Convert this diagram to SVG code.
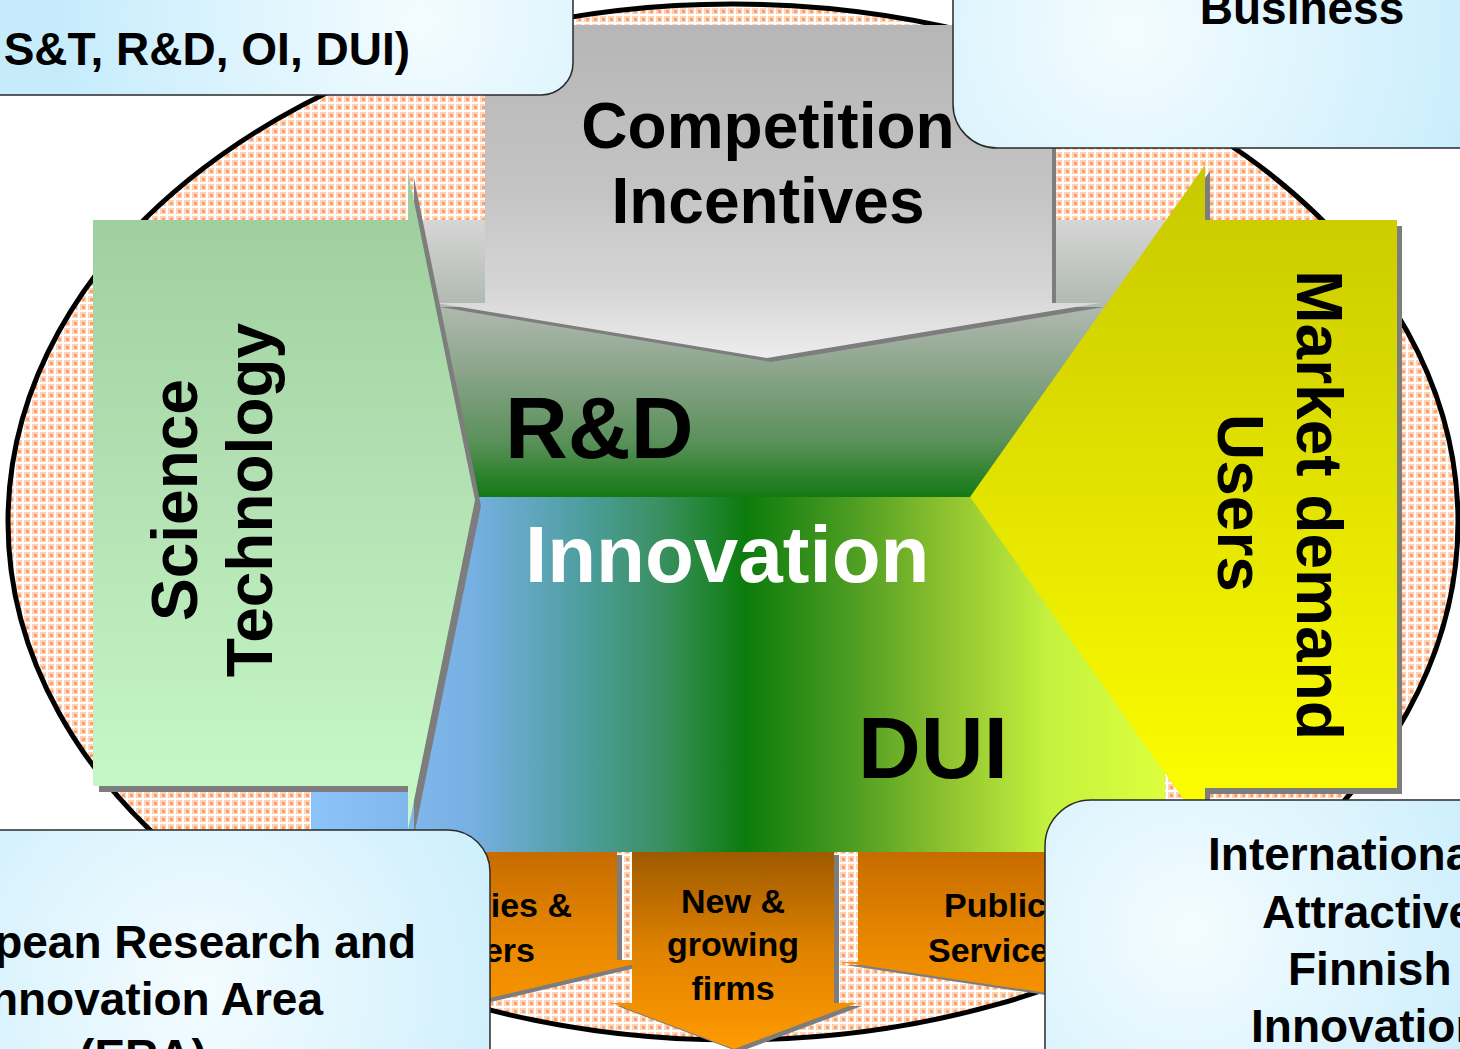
<svg xmlns="http://www.w3.org/2000/svg" width="1460" height="1049" viewBox="0 0 1460 1049">
<style>
.lbl{font-family:"Liberation Sans",Arial,Helvetica,sans-serif;font-weight:bold;fill:#000}
.w{fill:#fff}
.s46{font-size:46px}
.s64{font-size:64px}
.s34{font-size:34px}
.s80{font-size:80px}
.s87{font-size:87px}
.box{stroke:#2a2a2a;stroke-width:1.5}
.shadow{fill:#7d7d7d}
</style>
<defs>
<pattern id="peach" width="8" height="8" patternUnits="userSpaceOnUse">
<rect width="8" height="8" fill="#ffffff"/>
<rect x="0" y="0" width="6" height="6" fill="#ffd3b3"/>
<rect x="2" y="2" width="3" height="3" fill="#ffa070"/>
</pattern>
<linearGradient id="gRD" gradientUnits="userSpaceOnUse" x1="0" y1="220" x2="0" y2="497">
<stop offset="0" stop-color="#d6d6d6"/>
<stop offset="0.3" stop-color="#b2bab2"/>
<stop offset="0.55" stop-color="#8aa48a"/>
<stop offset="0.8" stop-color="#5a905a"/>
<stop offset="1" stop-color="#137a13"/>
</linearGradient>
<linearGradient id="gInno" gradientUnits="userSpaceOnUse" x1="311" y1="0" x2="1165" y2="0">
<stop offset="0" stop-color="#8cc4fa"/>
<stop offset="0.186" stop-color="#78b0e4"/>
<stop offset="0.315" stop-color="#4e9ea0"/>
<stop offset="0.41" stop-color="#3a9060"/>
<stop offset="0.509" stop-color="#0c7c0c"/>
<stop offset="0.632" stop-color="#4c9c22"/>
<stop offset="0.75" stop-color="#92c430"/>
<stop offset="0.865" stop-color="#c4f23e"/>
<stop offset="1" stop-color="#dcff3c"/>
</linearGradient>
<linearGradient id="gGray" gradientUnits="userSpaceOnUse" x1="0" y1="25" x2="0" y2="358">
<stop offset="0" stop-color="#b6b6b6"/>
<stop offset="0.5" stop-color="#c4c4c4"/>
<stop offset="0.8" stop-color="#d6d6d6"/>
<stop offset="1" stop-color="#ededed"/>
</linearGradient>
<linearGradient id="gGreen" gradientUnits="userSpaceOnUse" x1="0" y1="172" x2="0" y2="830">
<stop offset="0" stop-color="#9ccc9c"/>
<stop offset="0.5" stop-color="#b4e2b4"/>
<stop offset="1" stop-color="#c8fac8"/>
</linearGradient>
<linearGradient id="gYellow" gradientUnits="userSpaceOnUse" x1="0" y1="165" x2="0" y2="830">
<stop offset="0" stop-color="#c8c800"/>
<stop offset="0.3" stop-color="#d8d800"/>
<stop offset="1" stop-color="#ffff00"/>
</linearGradient>
<linearGradient id="gOrange" gradientUnits="userSpaceOnUse" x1="0" y1="852" x2="0" y2="1049">
<stop offset="0" stop-color="#c66c00"/>
<stop offset="0.5" stop-color="#ec8a00"/>
<stop offset="1" stop-color="#ff9a00"/>
</linearGradient>
<linearGradient id="gOrangeM" gradientUnits="userSpaceOnUse" x1="0" y1="852" x2="0" y2="1049">
<stop offset="0" stop-color="#9e5a00"/>
<stop offset="0.5" stop-color="#e08200"/>
<stop offset="1" stop-color="#ff9a00"/>
</linearGradient>
<radialGradient id="bTL" gradientUnits="userSpaceOnUse" cx="420" cy="20" r="360">
<stop offset="0" stop-color="#f4fcff"/>
<stop offset="1" stop-color="#c6ecfc"/>
</radialGradient>
<radialGradient id="bTR" gradientUnits="userSpaceOnUse" cx="1130" cy="30" r="380">
<stop offset="0" stop-color="#f4fcff"/>
<stop offset="1" stop-color="#c6ecfc"/>
</radialGradient>
<radialGradient id="bBL" gradientUnits="userSpaceOnUse" cx="200" cy="990" r="380">
<stop offset="0" stop-color="#f4fcff"/>
<stop offset="1" stop-color="#c6ecfc"/>
</radialGradient>
<radialGradient id="bBR" gradientUnits="userSpaceOnUse" cx="1190" cy="930" r="360">
<stop offset="0" stop-color="#f4fcff"/>
<stop offset="1" stop-color="#c6ecfc"/>
</radialGradient>
</defs>
<rect width="1460" height="1049" fill="#ffffff"/>
<g id="background-ellipse">
<ellipse cx="733" cy="522" rx="725" ry="518" fill="url(#peach)" stroke="#000" stroke-width="5"/>
</g>
<g id="innovation-core">
<rect x="311" y="220" width="854" height="277" fill="url(#gRD)"/>
<rect x="311" y="497" width="854" height="355" fill="url(#gInno)"/>
<text class="lbl s87" x="505" y="458">R&amp;D</text>
<text class="lbl w s80" x="525" y="582">Innovation</text>
<text class="lbl s87" x="858" y="778">DUI</text>
</g>
<g id="competition-arrow">
<polygon class="shadow" transform="translate(4,4)" points="485,25 1052,25 1052,303 1100,303 767,358 436,303 485,303"/>
<polygon fill="url(#gGray)" points="485,25 1052,25 1052,303 1100,303 767,358 436,303 485,303"/>
<text class="lbl s64" x="768" y="148" text-anchor="middle">Competition</text>
<text class="lbl s64" x="768" y="223" text-anchor="middle">Incentives</text>
</g>
<g id="science-arrow">
<polygon class="shadow" transform="translate(6,6)" points="93,220 408,220 408,172 475,500 408,830 408,786 93,786"/>
<polygon fill="url(#gGreen)" points="93,220 408,220 408,172 475,500 408,830 408,786 93,786"/>
<text class="lbl s64" transform="translate(197,500) rotate(-90)" text-anchor="middle">Science</text>
<text class="lbl s64" transform="translate(272,500) rotate(-90)" text-anchor="middle">Technology</text>
</g>
<g id="market-arrow">
<polygon class="shadow" transform="translate(5,6)" points="1397,220 1205,220 1205,165 970,497 1205,830 1205,788 1397,788"/>
<polygon fill="url(#gYellow)" points="1397,220 1205,220 1205,165 970,497 1205,830 1205,788 1397,788"/>
<text class="lbl s64" transform="translate(1297,505) rotate(90)" text-anchor="middle">Market demand</text>
<text class="lbl s64" transform="translate(1218,503) rotate(90)" text-anchor="middle">Users</text>
</g>
<g id="universities-arrow">
<polygon class="shadow" transform="translate(5,3)" points="380,852 617,852 617,960 652,960 490,998 380,1022"/>
<polygon fill="url(#gOrange)" points="380,852 617,852 617,960 652,960 490,998 380,1022"/>
<text class="lbl s34" x="572" y="917" text-anchor="end">ies &amp;</text>
<text class="lbl s34" x="535" y="962" text-anchor="end">ers</text>
</g>
<g id="public-services-arrow">
<polygon class="shadow" transform="translate(5,3)" points="858,852 1100,852 1100,1002 1047,993 840,962 858,962"/>
<polygon fill="url(#gOrange)" points="858,852 1100,852 1100,1002 1047,993 840,962 858,962"/>
<text class="lbl s34" x="944" y="917">Public</text>
<text class="lbl s34" x="928" y="962">Services</text>
</g>
<g id="new-firms-arrow">
<polygon class="shadow" transform="translate(5,3)" points="632,852 834,852 834,1003 857,1003 734,1049 612,1003 632,1003"/>
<polygon fill="url(#gOrangeM)" points="632,852 834,852 834,1003 857,1003 734,1049 612,1003 632,1003"/>
<text class="lbl s34" x="733" y="913" text-anchor="middle">New &amp;</text>
<text class="lbl s34" x="733" y="956" text-anchor="middle">growing</text>
<text class="lbl s34" x="733" y="1000" text-anchor="middle">firms</text>
</g>
<g id="connectors"/>
<g id="box-policy">
<rect class="box" x="-40" y="-40" width="613" height="135" rx="32" fill="url(#bTL)"/>
<text class="lbl s46" x="410" y="65" text-anchor="end">S&amp;T, R&amp;D, OI, DUI)</text>
</g>
<g id="box-business">
<rect class="box" x="953" y="-60" width="560" height="208" rx="44" fill="url(#bTR)"/>
<text class="lbl s46" x="1302" y="24" text-anchor="middle">Business</text>
</g>
<g id="box-era">
<rect class="box" x="-40" y="830" width="530" height="260" rx="42" fill="url(#bBL)"/>
<text class="lbl s46" x="416" y="958" text-anchor="end">pean Research and</text>
<text class="lbl s46" x="323" y="1015" text-anchor="end">nnovation Area</text>
<text class="lbl s46" x="143" y="1072" text-anchor="middle">(ERA)</text>
</g>
<g id="box-international">
<rect class="box" x="1045" y="800" width="480" height="300" rx="46" fill="url(#bBR)"/>
<text class="lbl s46" x="1208" y="870">International</text>
<text class="lbl s46" x="1262" y="928">Attractive</text>
<text class="lbl s46" x="1288" y="985">Finnish</text>
<text class="lbl s46" x="1251" y="1042">Innovation</text>
</g>
</svg>
